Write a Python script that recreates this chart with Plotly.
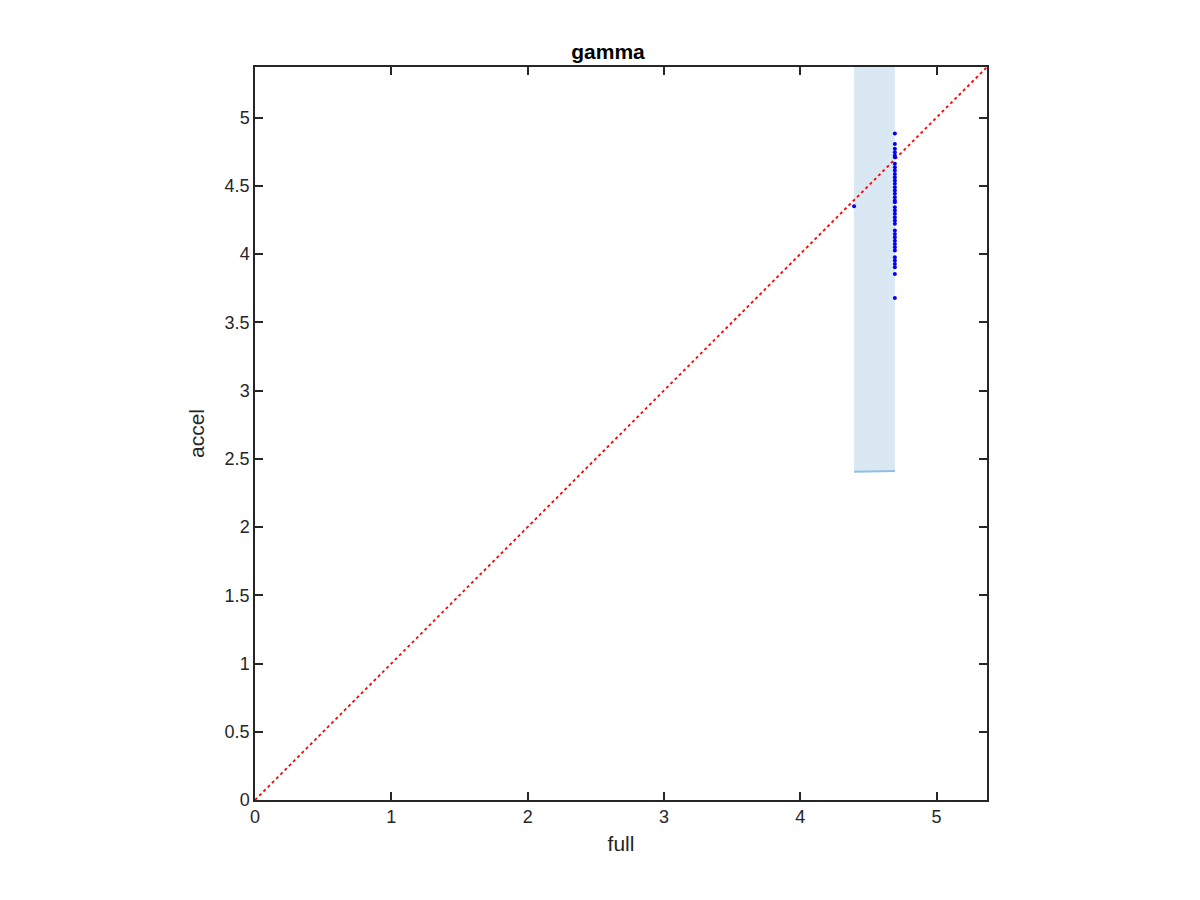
import plotly.graph_objects as go

# data
axis_max = 5.37
diag_x = [0, axis_max]
diag_y = [0, axis_max]

band_x = [4.395, 4.694]
band_low = [2.405, 2.41]
band_high = [axis_max, axis_max]

pts_y = [4.35,
         4.883, 4.805, 4.771, 4.746, 4.721, 4.709, 4.661, 4.636, 4.611, 4.587,
         4.562, 4.538, 4.514, 4.489, 4.465, 4.441, 4.416, 4.392, 4.379, 4.343,
         4.318, 4.294, 4.269, 4.245, 4.221, 4.172, 4.147, 4.123, 4.098, 4.074,
         4.050, 4.025, 3.976, 3.952, 3.927, 3.903, 3.854, 3.678]
pts_x = [4.395] + [4.694] * (len(pts_y) - 1)

x_ticks = [0, 1, 2, 3, 4, 5]
y_ticks = [0, 0.5, 1, 1.5, 2, 2.5, 3, 3.5, 4, 4.5, 5]

FONT = "Liberation Sans, Arial, sans-serif"

fig = go.Figure()
# shaded band
fig.add_trace(go.Scatter(
    x=band_x + band_x[::-1], y=band_low + band_high[::-1],
    fill="toself", fillcolor="rgba(217,232,243,1)", mode="none",
    hoverinfo="skip", showlegend=False))
fig.add_trace(go.Scatter(
    x=band_x, y=band_low, mode="lines",
    line=dict(color="#8fbfe2", width=2), showlegend=False))
# diagonal
fig.add_trace(go.Scatter(
    x=diag_x, y=diag_y, mode="lines",
    line=dict(color="#ff0000", width=1.8, dash="dot"), showlegend=False))
# points
fig.add_trace(go.Scatter(
    x=pts_x, y=pts_y, mode="markers",
    marker=dict(color="#0000ff", size=4), showlegend=False))

axis_common = dict(
    range=[0, axis_max], showgrid=False, zeroline=False,
    showline=True, linecolor="#262626", linewidth=1.5, mirror="ticks",
    ticks="inside", ticklen=8, tickwidth=1.5, tickcolor="#262626",
    tickfont=dict(family=FONT, size=18, color="#262626"),
)
fig.update_layout(
    width=1200, height=900,
    paper_bgcolor="white", plot_bgcolor="white",
    margin=dict(l=247, r=221, t=59, b=108),
    title=dict(text="<b>gamma</b>", x=0.5, xanchor="center", y=0.952, yanchor="middle",
               font=dict(family=FONT, size=21, color="black")),
    xaxis=dict(axis_common, tickvals=x_ticks,
               title=dict(text="full", standoff=10,
                          font=dict(family=FONT, size=21, color="#262626"))),
    yaxis=dict(axis_common, tickvals=y_ticks,
               title=dict(text="accel", standoff=14,
                          font=dict(family=FONT, size=21, color="#262626"))),
)
fig.write_html("out.html")
